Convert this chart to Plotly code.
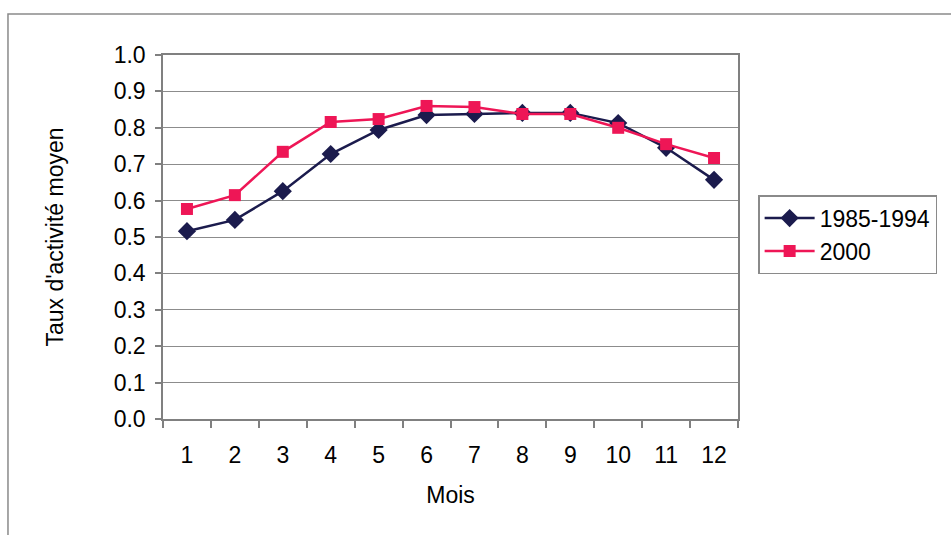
import plotly.graph_objects as go

months = [1, 2, 3, 4, 5, 6, 7, 8, 9, 10, 11, 12]
month_labels = ["1", "2", "3", "4", "5", "6", "7", "8", "9", "10", "11", "12"]
s_1985_1994 = [0.516, 0.547, 0.626, 0.728, 0.794, 0.835, 0.838, 0.841, 0.841, 0.813, 0.745, 0.657]
s_2000 = [0.577, 0.615, 0.734, 0.816, 0.824, 0.860, 0.857, 0.838, 0.838, 0.800, 0.755, 0.717]
y_ticks = [0.0, 0.1, 0.2, 0.3, 0.4, 0.5, 0.6, 0.7, 0.8, 0.9, 1.0]

navy = "#1b1b4d"
pink = "#ee1656"
font = "Liberation Sans, Arial, sans-serif"
fs = 23

fig = go.Figure()
fig.add_trace(go.Scatter(x=months, y=s_1985_1994, name="1985-1994", mode="lines+markers",
                         line=dict(color=navy, width=2.5),
                         marker=dict(symbol="diamond", size=14, color=navy)))
fig.add_trace(go.Scatter(x=months, y=s_2000, name="2000", mode="lines+markers",
                         line=dict(color=pink, width=2.5),
                         marker=dict(symbol="square", size=12, color=pink)))

fig.update_layout(
    width=951, height=535,
    margin=dict(l=163, r=213, t=55, b=116),
    paper_bgcolor="white", plot_bgcolor="white",
    font=dict(family=font, size=fs, color="black"),
    showlegend=True,
    legend=dict(x=1.035, y=0.615, xanchor="left", yanchor="top",
                bordercolor="#8a8a8a", borderwidth=1.5, bgcolor="white",
                font=dict(size=fs), tracegroupgap=0, itemwidth=50),
    xaxis=dict(range=[0.5, 12.5], tickmode="array", tickvals=months, ticktext=month_labels,
               ticks="", ticklabelstandoff=15, showgrid=False, zeroline=False, showline=True,
               linecolor="#808080", linewidth=1.5, mirror=True,
               minor=dict(tickmode="array", tickvals=[m - 0.5 for m in months] + [12.5],
                          ticks="outside", ticklen=7, tickcolor="#808080", tickwidth=1.5, showgrid=False),
               title=dict(text="Mois", standoff=20, font=dict(size=fs)),
               tickfont=dict(size=fs), fixedrange=True),
    yaxis=dict(range=[0, 1.0], tickmode="array", tickvals=y_ticks,
               ticktext=[f"{v:.1f}" for v in y_ticks],
               ticks="outside", ticklen=6, tickcolor="#808080", tickwidth=1.5, ticklabelstandoff=5,
               showgrid=True, gridcolor="#8c8c8c", gridwidth=1.2, zeroline=False,
               showline=True, linecolor="#808080", linewidth=1.5, mirror=True,
               title=dict(text="Taux d'activité moyen", standoff=44, font=dict(size=fs)),
               tickfont=dict(size=fs), fixedrange=True),
    shapes=[dict(type="rect", xref="paper", yref="paper", x0=-0.2696, x1=1.6, y0=-0.6, y1=1.1126,
                 line=dict(color="#8a8a8a", width=1.5), layer="below")],
)

fig.write_html("out.html")
